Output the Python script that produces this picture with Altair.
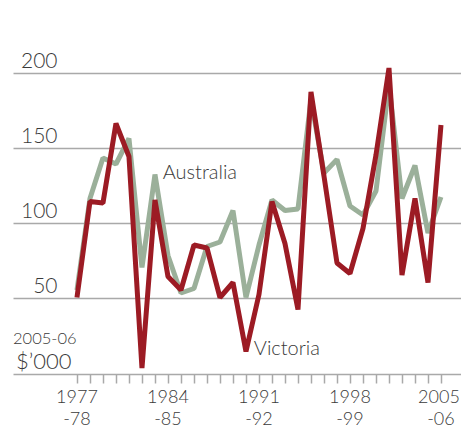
import altair as alt
import pandas as pd

years = list(range(1977, 2006))
victoria = [50, 114, 113, 166, 144, 3, 115, 64, 55, 85, 83, 50, 60, 14, 52, 114, 86, 42,
            187, 131, 73, 66, 96, 145, 203, 65, 116, 60, 165]
australia = [55, 116, 143, 139, 156, 70, 132, 78, 53, 56, 84, 87, 108, 50, 85, 115, 108, 109,
             182, 133, 142, 111, 105, 121, 192, 116, 138, 93, 117]
y_ticks = [50, 100, 150, 200]
x_label_years = [1977, 1984, 1991, 1998, 2005]
x_label_top = ["1977", "1984", "1991", "1998", "2005"]
x_label_bottom = ["-78", "-85", "-92", "-99", "-06"]
series_labels = ["Australia", "Victoria"]
label_x = [1983.6, 1990.6]
label_y = [133, 16]

FONT = "Lato"
TXT = "#3a3a3a"
GRID = "#a9a9a9"
RED = "#9c1b24"
GREEN = "#9bb09a"

df = pd.DataFrame({"year": years, "Victoria": victoria, "Australia": australia})
lab_df = pd.DataFrame({"name": series_labels, "x": label_x, "y": label_y})
xl_df = pd.DataFrame({"year": x_label_years, "top": x_label_top, "bottom": x_label_bottom})

xscale = alt.Scale(domain=[1972.08, 2006.54], nice=False, zero=False)
yscale = alt.Scale(domain=[-1, 243], nice=False, zero=False)

xaxis = alt.Axis(values=years, tickCount=40, tickSize=9, tickColor=GRID, tickWidth=1.5,
                 domainColor=GRID, domainWidth=1.5, grid=False, title=None, labels=False)
yaxis = alt.Axis(values=y_ticks, tickCount=10, grid=True, gridColor=GRID, gridWidth=1.5, ticks=False,
                 tickSize=0, domain=False, title=None, labelAlign="right",
                 labelBaseline="alphabetic", labelOffset=-5, labelPadding=-44,
                 labelFont=FONT, labelFontWeight=300, labelFontSize=21, labelColor=TXT)

base = alt.Chart(df)
aus = base.mark_line(color=GREEN, strokeWidth=5, strokeJoin="bevel").encode(
    x=alt.X("year:Q", scale=xscale, axis=xaxis),
    y=alt.Y("Australia:Q", scale=yscale, axis=yaxis),
)
vic = base.mark_line(color=RED, strokeWidth=5, strokeJoin="bevel").encode(
    x=alt.X("year:Q", scale=xscale),
    y=alt.Y("Victoria:Q", scale=yscale),
)
labels = alt.Chart(lab_df).mark_text(align="left", baseline="middle", font=FONT,
                                      fontWeight=300, fontSize=20, color=TXT).encode(
    x=alt.X("x:Q", scale=xscale), y=alt.Y("y:Q", scale=yscale), text="name:N")

xl_base = alt.Chart(xl_df)
tstyle = dict(baseline="alphabetic", font=FONT, fontWeight=300, fontSize=18, color=TXT)
xl1 = xl_base.mark_text(align="center", **tstyle).encode(
    x=alt.X("year:Q", scale=xscale), y=alt.value(395), text="top:N"
).transform_filter(alt.datum.year < 2005)
xl1_last = xl_base.mark_text(align="center", dx=-2, **tstyle).encode(
    x=alt.X("year:Q", scale=xscale), y=alt.value(395), text="top:N"
).transform_filter(alt.datum.year == 2005)
xl2 = xl_base.mark_text(align="center", **tstyle).encode(
    x=alt.X("year:Q", scale=xscale), y=alt.value(417), text="bottom:N")

unit1 = alt.Chart(pd.DataFrame({"t": ["2005-06"]})).mark_text(
    align="left", baseline="alphabetic", font=FONT, fontWeight=300, fontSize=16.5, color=TXT
).encode(x=alt.value(0), y=alt.value(336), text="t:N")
unit2 = alt.Chart(pd.DataFrame({"t": ["$\u2019000"]})).mark_text(
    align="left", baseline="alphabetic", font=FONT, fontWeight=300, fontSize=22, color=TXT
).encode(x=alt.value(3), y=alt.value(361), text="t:N")

chart = alt.layer(aus, vic, labels, xl1, xl1_last, xl2, unit1, unit2).properties(
    width=448, height=366,
    autosize=alt.AutoSizeParams(type="none"),
    padding={"left": 5, "top": 0, "right": 0, "bottom": 56},
).configure_view(stroke=None)

chart.save("out.html", embed_options={"renderer": "svg", "actions": False})
